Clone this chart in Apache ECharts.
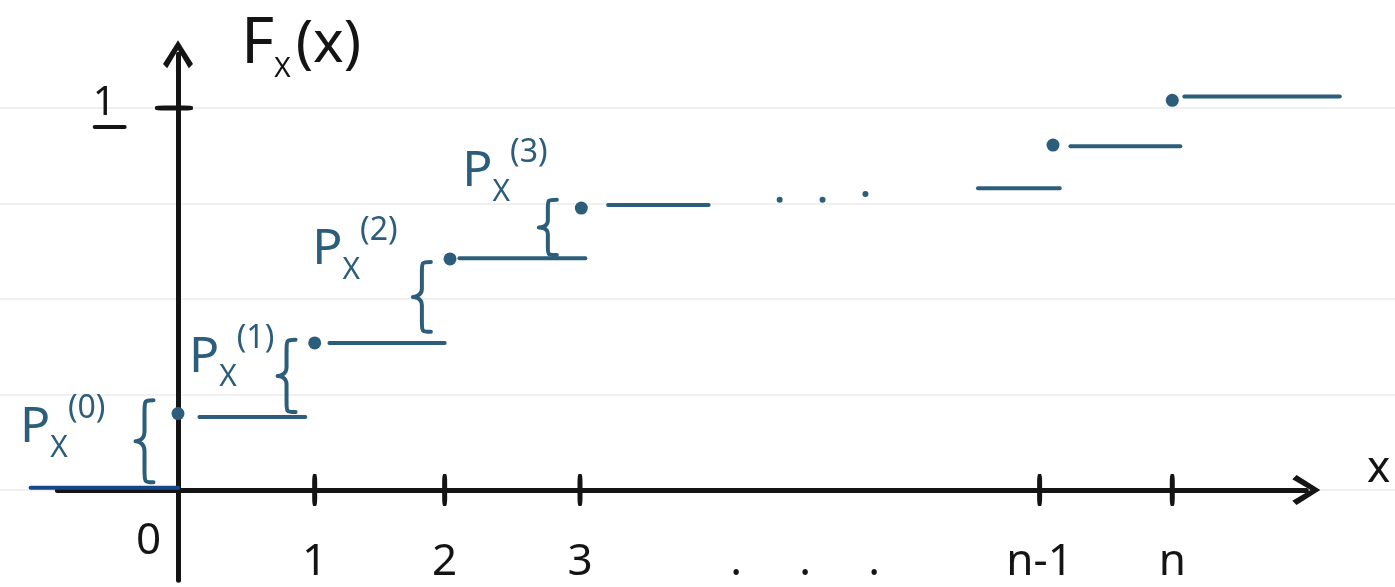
<!DOCTYPE html>
<html>
<head>
<meta charset="utf-8">
<script src="https://cdn.jsdelivr.net/npm/echarts@6/dist/echarts.min.js"></script>
<style>
  html, body { margin: 0; padding: 0; background: #fff; }
  #chart { width: 1395px; height: 587px; }
</style>
</head>
<body>
<div id="chart"></div>
<script>
// step pieces of F_X(x): from, to, level
const stepFrom  = [-1.10, 0.16, 1.13, 2.10, 3.21, 5.97, 6.66, 7.51];
const stepTo    = [0.00, 0.95, 1.99, 3.04, 3.96, 6.58, 7.48, 8.67];
const stepLevel = [0.006, 0.191, 0.385, 0.607, 0.746, 0.79, 0.90, 1.03];

// closed dots at the jumps
const dotX = [0, 1.02, 2.03, 3.01, 6.53, 7.42];
const dotY = [0.20, 0.385, 0.605, 0.738, 0.903, 1.02];

// the "..." between 3 and n-1
const gapDotX = [4.49, 4.81, 5.13];
const gapDotY = [0.76, 0.76, 0.775];

// braces: x, low, high
const braceX    = [-0.25, 0.81, 1.82, 2.76];
const braceLow  = [0.02, 0.204, 0.414, 0.615];
const braceHigh = [0.235, 0.393, 0.597, 0.76];

// P_X(k) labels
const pX   = [-0.86, 0.40, 1.32, 2.44];
const pY   = [0.162, 0.346, 0.628, 0.832];
const pArg = ['(0)', '(1)', '(2)', '(3)'];

// x axis ticks and their labels (labels sit below the axis)
const xTickPos   = [1.02, 1.99, 3.0, 6.43, 7.42];
const xLabelPos  = [1.02, 1.99, 3.0, 4.68, 6.43, 7.42];
const xLabelText = ['1', '2', '3', '.     .     .', 'n-1', 'n'];
const xLabelLevel = -0.19;

// y axis tick and its label
const yTickPos   = [1];
const yLabelX    = -0.51;
const yLabelText = ['1'];

// notebook lines
const paperLines = [0, 0.25, 0.5, 0.75, 1];

// hand-drawn axes extent
const xAxisFrom = -0.9, xAxisTo = 8.42;
const yAxisFrom = -0.236, yAxisTo = 1.141;

// loose notes: the "0" and the axis name "x"
const noteX = [-0.22, 8.96];
const noteY = [-0.135, 0.055];
const noteText = ['0', 'x'];

const ink = '#141414';
const blue = '#2c5d7a';
const deepBlue = '#17468a';
const font = 'Noto Sans';
const chevron = 'path://M50,0 L100,78 L86,92 L50,32 L14,92 L0,78 Z';

const chart = echarts.init(document.getElementById('chart'));

const renderStep = (params, api) => {
  const a = api.coord([api.value(0), api.value(2)]);
  const b = api.coord([api.value(1), api.value(2)]);
  return {
    type: 'line',
    shape: { x1: a[0], y1: a[1], x2: b[0], y2: b[1] },
    style: { stroke: params.dataIndex === 0 ? deepBlue : blue, lineWidth: 4, lineCap: 'round' }
  };
};

const renderBrace = (params, api) => {
  const top = api.coord([api.value(0), api.value(2)]);
  const bot = api.coord([api.value(0), api.value(1)]);
  const x = top[0], yt = top[1], yb = bot[1];
  const h = yb - yt, m = (yt + yb) / 2, w = 18;
  const d = [
    'M', x + w / 2, yt,
    'C', x, yt, x, yt, x, yt + h * 0.15,
    'L', x, m - h * 0.12,
    'C', x, m, x - w / 2, m, x - w / 2, m,
    'C', x - w / 2, m, x, m, x, m + h * 0.12,
    'L', x, yb - h * 0.15,
    'C', x, yb, x, yb, x + w / 2, yb
  ].join(' ');
  return {
    type: 'path',
    shape: { pathData: d },
    style: { fill: null, stroke: blue, lineWidth: 4, lineCap: 'round', lineJoin: 'round' }
  };
};

const textSeries = (name, points, formatter, labelStyle) => ({
  name,
  type: 'scatter',
  silent: true,
  symbolSize: 0,
  itemStyle: { opacity: 1 },
  data: points,
  label: Object.assign({ show: true, position: 'inside', formatter }, labelStyle)
});

chart.setOption({
  animation: false,
  backgroundColor: '#fff',
  grid: { left: 0, right: 0, top: 0, bottom: 0, outerBoundsMode: 'none', containLabel: false },
  title: {
    text: '{f|F}{s|X} {p|(x)}',
    left: 236,
    top: 2,
    textStyle: {
      rich: {
        f: { fontSize: 64, fontFamily: font, fontWeight: 'normal', color: ink, lineHeight: 76, verticalAlign: 'middle' },
        s: { fontSize: 28, fontFamily: font, fontWeight: 'normal', color: ink, lineHeight: 30, verticalAlign: 'bottom' },
        p: { fontSize: 58, fontFamily: font, fontWeight: 'normal', color: ink, lineHeight: 76, verticalAlign: 'middle' }
      }
    }
  },
  xAxis: {
    type: 'value',
    min: -178 / 134,
    max: (1395 - 178) / 134,
    axisLine: { show: false },
    axisTick: { show: false },
    axisLabel: { show: false },
    splitLine: { show: false }
  },
  yAxis: {
    type: 'value',
    min: (490 - 587) / 382,
    max: 490 / 382,
    axisLine: { show: false },
    axisTick: { show: false },
    axisLabel: { show: false },
    splitLine: { show: false }
  },
  series: [
    {
      name: 'paper',
      type: 'line',
      data: [],
      markLine: {
        silent: true,
        z: 0,
        symbol: 'none',
        label: { show: false },
        lineStyle: { color: '#f0f0f0', width: 2, type: 'solid' },
        emphasis: { disabled: true },
        data: paperLines.map(v => ({ yAxis: v }))
      }
    },
    {
      name: 'axes',
      type: 'line',
      data: [],
      markLine: {
        silent: true,
        z: 1,
        symbol: ['none', chevron],
        symbolSize: [30, 28],
        label: { show: false },
        lineStyle: { color: ink, width: 5, type: 'solid', cap: 'round' },
        emphasis: { disabled: true },
        data: [
          [{ coord: [xAxisFrom, 0] }, { coord: [xAxisTo, 0] }],
          [{ coord: [0, yAxisFrom] }, { coord: [0, yAxisTo] }]
        ]
      }
    },
    {
      name: 'ticks',
      type: 'scatter',
      silent: true,
      symbol: 'roundRect',
      symbolSize: [5, 32],
      itemStyle: { color: ink, opacity: 1 },
      data: xTickPos.map(x => [x, 0])
    },
    {
      name: 'ytick',
      type: 'scatter',
      silent: true,
      symbol: 'roundRect',
      symbolSize: [38, 5],
      itemStyle: { color: ink, opacity: 1 },
      data: yTickPos.map(y => [-0.03, y])
    },
    {
      name: 'steps',
      type: 'custom',
      silent: true,
      renderItem: renderStep,
      encode: { x: [0, 1], y: 2 },
      data: stepFrom.map((f, i) => [f, stepTo[i], stepLevel[i]])
    },
    {
      name: 'jumps',
      type: 'scatter',
      silent: true,
      symbolSize: 13,
      itemStyle: { color: blue, opacity: 1 },
      data: dotX.map((x, i) => [x, dotY[i]])
    },
    {
      name: 'gap',
      type: 'scatter',
      silent: true,
      symbolSize: 6,
      itemStyle: { color: blue, opacity: 1 },
      data: gapDotX.map((x, i) => [x, gapDotY[i]])
    },
    {
      name: 'braces',
      type: 'custom',
      silent: true,
      renderItem: renderBrace,
      encode: { x: 0, y: [1, 2] },
      data: braceX.map((x, i) => [x, braceLow[i], braceHigh[i]])
    },
    textSeries('pmf', pX.map((x, i) => [x, pY[i]]),
      p => '{p|P}{s|X}{a|' + pArg[p.dataIndex] + '}',
      {
        rich: {
          p: { fontSize: 50, fontFamily: font, color: blue, lineHeight: 70, verticalAlign: 'middle' },
          s: { fontSize: 30, fontFamily: font, color: blue, lineHeight: 32, verticalAlign: 'bottom' },
          a: { fontSize: 32, fontFamily: font, color: blue, lineHeight: 34, verticalAlign: 'top' }
        }
      }),
    textSeries('xLabels', xLabelPos.map(x => [x, xLabelLevel]),
      p => xLabelText[p.dataIndex],
      { fontSize: 44, fontFamily: font, color: ink }),
    textSeries('yLabels', yTickPos.map(y => [yLabelX, y]),
      p => '{n|' + yLabelText[p.dataIndex] + '}\n{u| }',
      {
        rich: {
          n: { fontSize: 40, fontFamily: font, color: ink, lineHeight: 38, align: 'left' },
          u: { width: 34, height: 4, lineHeight: 8, backgroundColor: ink, borderRadius: 2 }
        }
      }),
    textSeries('notes', noteX.map((x, i) => [x, noteY[i]]),
      p => noteText[p.dataIndex],
      { fontSize: 44, fontFamily: font, color: ink })
  ]
});
</script>
</body>
</html>
